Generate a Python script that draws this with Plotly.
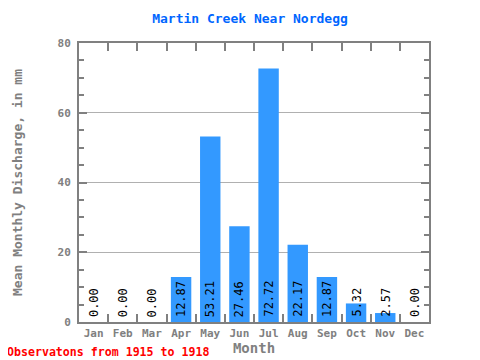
import plotly.graph_objects as go

months = ["Jan", "Feb", "Mar", "Apr", "May", "Jun", "Jul", "Aug", "Sep", "Oct", "Nov", "Dec"]
values = [0.00, 0.00, 0.00, 12.87, 53.21, 27.46, 72.72, 22.17, 12.87, 5.32, 2.57, 0.00]
labels = ["%.2f" % v for v in values]

FONT = "DejaVu Sans Mono"
W, H = 472, 352
L, R, T, B = 71, 51, 35, 38
PW, PH = W - L - R, H - T - B

fig = go.Figure()
fig.add_trace(go.Bar(x=months, y=values, marker=dict(color="#3399ff", line=dict(width=0)), width=0.7))

for m, lab in zip(months, labels):
    fig.add_annotation(x=m, y=0, text=lab, textangle=-90, showarrow=False,
                       yanchor="bottom", xanchor="center", yshift=3,
                       font=dict(family=FONT, size=12, color="black"))

fig.update_layout(
    width=W, height=H,
    margin=dict(l=L, r=R, t=T, b=B),
    paper_bgcolor="white", plot_bgcolor="white",
    showlegend=False,
    title=dict(text="<b>Martin Creek Near Nordegg</b>", x=(L + PW / 2 - 4) / W, xanchor="center",
               y=1 - 10 / H, yanchor="middle",
               font=dict(family=FONT, size=13, color="#0066ff")),
    font=dict(family=FONT, size=12, color="#808080"),
)
fig.update_xaxes(
    type="category", tickson="boundaries", ticks="inside", ticklen=8, tickwidth=2, tickcolor="#808080",
    showline=True, linewidth=2, linecolor="#808080", mirror="ticks", automargin=False, tickangle=0,
    title=dict(text="<b>Month</b>", font=dict(family=FONT, size=14, color="#808080"), standoff=0),
    tickfont=dict(family=FONT, size=11, color="#808080", weight="bold"),
    showgrid=False,
)
fig.update_yaxes(
    range=[0, 80], dtick=20, ticks="inside", ticklen=8, tickwidth=2, tickcolor="#808080",
    minor=dict(dtick=5, ticks="inside", ticklen=5, tickwidth=2, tickcolor="#808080", showgrid=False),
    showline=True, linewidth=2, linecolor="#808080", mirror="ticks", automargin=False,
    showgrid=True, gridcolor="#b0b0b0", gridwidth=1, zeroline=False, ticklabelstandoff=4,
    title=dict(text="<b>Mean Monthly Discharge, in mm</b>", font=dict(family=FONT, size=13, color="#808080"), standoff=32),
    tickfont=dict(family=FONT, size=11, color="#808080", weight="bold"),
)
fig.add_annotation(text="<b>Observatons from 1915 to 1918</b>", xref="paper", yref="paper",
                   x=-(L + 3) / PW, y=-(344 - T - PH) / PH, xanchor="left", yanchor="middle", showarrow=False,
                   font=dict(family=FONT, size=11.6, color="#ff0000"))
fig.write_html("out.html")
